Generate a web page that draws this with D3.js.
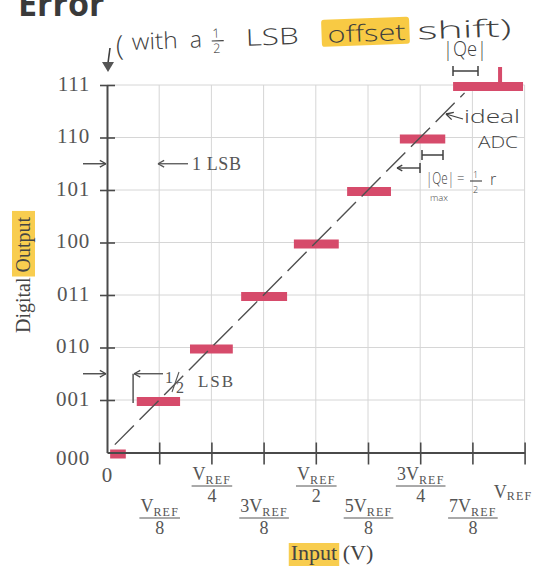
<!DOCTYPE html>
<html>
<head>
<meta charset="utf-8">
<script src="https://cdn.jsdelivr.net/npm/d3@7"></script>
<style>
  html, body { margin: 0; padding: 0; background: #fff; }
  svg { display: block; }
</style>
</head>
<body>
<svg id="chart" width="559" height="570"></svg>
<script>
// Output codes of a 3-bit ADC (y axis)
const codes = ['000', '001', '010', '011', '100', '101', '110', '111'];
// Input range covered by each code's step, in LSB (Vref/8) units
const stepStart = [0.06, 0.57, 1.59, 2.57, 3.58, 4.60, 5.61, 6.63];
const stepEnd   = [0.36, 1.40, 2.41, 3.45, 4.44, 5.44, 6.48, 7.97];
// Marker on the top code's step, in LSB
const topMarker = 7.53;
// Ideal (unquantised) transfer line, start and end in LSB
const idealSpan = [0.15, 6.85];
// Decision thresholds pointed at on the output axis (codes)
const thresholds = [5.5, 1.5];
// Input tick labels: coefficient of VREF and denominator
const tickCoef = ['', '', '3', '', '5', '3', '7', ''];
const tickDen  = ['8', '4', '8', '2', '8', '4', '8', ''];

const svg = d3.select('#chart');
const serif = '"Liberation Serif", "Times New Roman", serif';
const hand = '"Open Sans", "Noto Sans", sans-serif';
const ink = '#4a4a4a';
const textGray = '#555';

const x = d3.scaleLinear().domain([0, 8]).range([107, 524.6]);
const y = d3.scaleLinear().domain([0, 7]).range([452.5, 85]);

// ---- title fragment
svg.append('text').attr('x', 18).attr('y', 16)
  .attr('font-family', '"Open Sans", "Liberation Sans", sans-serif')
  .attr('font-weight', 700).attr('font-size', 34).attr('fill', '#3a3a3a')
  .text('Error');

// ---- grid
const grid = svg.append('g').attr('stroke', '#d6d6d6').attr('stroke-width', 1);
grid.selectAll('line.h').data(d3.range(1, 8)).join('line').attr('class', 'h')
  .attr('x1', x(0)).attr('x2', x(8)).attr('y1', d => y(d)).attr('y2', d => y(d));
grid.selectAll('line.v').data(d3.range(1, 9)).join('line').attr('class', 'v')
  .attr('x1', d => x(d)).attr('x2', d => x(d)).attr('y1', y(0)).attr('y2', y(7));

// ---- quantisation steps
const bars = svg.append('g').attr('fill', '#d64b6b');
bars.selectAll('rect').data(codes).join('rect')
  .attr('x', (d, i) => x(stepStart[i]))
  .attr('width', (d, i) => x(stepEnd[i]) - x(stepStart[i]))
  .attr('y', (d, i) => y(i) + 1.5 - 4.5)
  .attr('height', 9);
bars.append('rect')
  .attr('x', x(topMarker) - 2).attr('width', 4)
  .attr('y', y(7) - 18).attr('height', 18);

// ---- ideal transfer line
svg.append('path')
  .datum(idealSpan.map(v => [v, v]))
  .attr('d', d3.line().x(d => x(d[0])).y(d => y(d[1])))
  .attr('fill', 'none').attr('stroke', '#505050').attr('stroke-width', 1.4)
  .attr('stroke-dasharray', '27 8');

// ---- y axis
const yAxis = svg.append('g').attr('transform', `translate(${x(0)},0)`)
  .call(d3.axisLeft(y).tickValues(d3.range(0, 8)).tickFormat(i => codes[i])
    .tickSize(0).tickPadding(17));
yAxis.select('.domain').attr('stroke', ink).attr('stroke-width', 2);
yAxis.selectAll('.tick text')
  .attr('font-family', serif).attr('font-size', 21).attr('fill', textGray)
  .attr('letter-spacing', 0.8)
  .attr('dy', (d) => d === 0 ? '0.55em' : '0.25em');
yAxis.selectAll('.tick').filter(d => d > 0).append('line')
  .attr('x1', -7).attr('x2', 8).attr('stroke', ink).attr('stroke-width', 1.6);

// ---- x axis
const xAxis = svg.append('g').attr('transform', `translate(0,${y(0)})`)
  .call(d3.axisBottom(x).tickValues(d3.range(1, 9)).tickFormat('').tickSize(0));
xAxis.select('.domain').attr('stroke', ink).attr('stroke-width', 2);
xAxis.selectAll('.tick').append('line')
  .attr('y1', -10).attr('y2', 12).attr('stroke', ink).attr('stroke-width', 1.6);

// Fraction labels under the ticks
xAxis.selectAll('.tick').each(function (k) {
  const g = d3.select(this);
  const i = k - 1;
  if (!tickDen[i]) {
    const t = g.append('text').attr('x', -12).attr('y', 498 - y(0))
      .attr('font-family', serif).attr('fill', textGray);
    t.append('tspan').attr('font-size', 18).text('V');
    t.append('tspan').attr('font-size', 12).attr('letter-spacing', 1.2)
      .attr('dy', 2).text('REF');
    return;
  }
  const lineY = (k % 2 === 0 ? 486 : 518) - y(0);
  const num = g.append('text').attr('text-anchor', 'middle')
    .attr('y', lineY - 6).attr('font-family', serif).attr('fill', textGray);
  num.append('tspan').attr('font-size', 18).text(tickCoef[i] + 'V');
  num.append('tspan').attr('font-size', 12).attr('letter-spacing', 1.2)
    .attr('dy', 3.5).text('REF');
  const w = num.node().getComputedTextLength() + 2;
  g.append('line').attr('x1', -w / 2).attr('x2', w / 2)
    .attr('y1', lineY).attr('y2', lineY).attr('stroke', textGray).attr('stroke-width', 1);
  g.append('text').attr('text-anchor', 'middle').attr('y', lineY + 16)
    .attr('font-family', serif).attr('font-size', 18).attr('fill', textGray)
    .text(tickDen[i]);
});
svg.append('text').attr('x', x(0)).attr('y', 482).attr('text-anchor', 'middle')
  .attr('font-family', serif).attr('font-size', 21).attr('fill', textGray).text('0');

// ---- axis titles with marker highlight
const highlight = '#f7c430';
const yTitle = svg.append('g').attr('transform', 'translate(30,275) rotate(-90)');
const yTitleBg = yTitle.append('rect');
const yTitleText = yTitle.append('text').attr('text-anchor', 'middle')
  .attr('font-family', serif).attr('font-size', 20).attr('fill', '#444')
  .text('Digital Output');
{
  const n = yTitleText.node();
  const s = n.getStartPositionOfChar(8).x;
  const e = n.getEndPositionOfChar(13).x;
  yTitleBg.attr('x', s - 4).attr('width', e - s + 10).attr('y', -18).attr('height', 23)
    .attr('fill', highlight).attr('opacity', 0.85);
}
const xTitle = svg.append('g').attr('transform', 'translate(332,560)');
const xTitleBg = xTitle.append('rect');
const xTitleText = xTitle.append('text').attr('text-anchor', 'middle')
  .attr('font-family', serif).attr('font-size', 22).attr('fill', '#444')
  .text('Input (V)');
{
  const n = xTitleText.node();
  const s = n.getStartPositionOfChar(0).x;
  const e = n.getEndPositionOfChar(4).x;
  xTitleBg.attr('x', s - 2).attr('width', e - s + 4).attr('y', -17).attr('height', 23)
    .attr('fill', highlight).attr('opacity', 0.85);
}

// ---- helpers for drawn arrows
function arrow(g, x1, y1, x2, y2, opts = {}) {
  const color = opts.color || '#444';
  const sw = opts.width || 1.3;
  const head = opts.head || 7;
  g.append('line').attr('x1', x1).attr('y1', y1).attr('x2', x2).attr('y2', y2)
    .attr('stroke', color).attr('stroke-width', sw);
  const a = Math.atan2(y2 - y1, x2 - x1);
  [0.5, -0.5].forEach(da => {
    g.append('line').attr('x1', x2).attr('y1', y2)
      .attr('x2', x2 - head * Math.cos(a + da)).attr('y2', y2 - head * Math.sin(a + da))
      .attr('stroke', color).attr('stroke-width', sw);
  });
}
const notes = svg.append('g');

// Threshold pointers on the output axis
thresholds.forEach(t => arrow(notes, 83, y(t), x(0) - 1, y(t), { color: ink, width: 1.4 }));

// "← 1 LSB"
arrow(notes, 188, y(5.5), 158, y(5.5), { color: textGray, width: 1.3 });
notes.append('text').attr('x', 192).attr('y', 170).attr('font-family', serif)
  .attr('font-size', 18).attr('fill', textGray).attr('textLength', 49).text('1 LSB');

// "½ LSB" bracket
notes.append('line').attr('x1', x(0.5)).attr('x2', x(0.5))
  .attr('y1', y(1.5)).attr('y2', y(1) + 3).attr('stroke', ink).attr('stroke-width', 1.4);
arrow(notes, 163, y(1.5), x(0.5) + 1, y(1.5), { color: ink, width: 1.3 });
notes.append('text').attr('x', 165).attr('y', 383).attr('font-family', serif)
  .attr('font-size', 16).attr('fill', textGray).text('1');
notes.append('line').attr('x1', 179).attr('y1', 372).attr('x2', 172).attr('y2', 392)
  .attr('stroke', textGray).attr('stroke-width', 1.1);
notes.append('text').attr('x', 176).attr('y', 393).attr('font-family', serif)
  .attr('font-size', 16).attr('fill', textGray).text('2');
notes.append('text').attr('x', 198).attr('y', 387).attr('font-family', serif)
  .attr('font-size', 17).attr('fill', textGray).attr('textLength', 35).text('LSB');

// ---- handwritten notes
const pen = '#3f3f3f';
const hw = svg.append('g').attr('transform', 'rotate(-2.1,130,50)');
hw.append('rect').attr('x', 322).attr('y', 27).attr('width', 88).attr('height', 27)
  .attr('rx', 3).attr('fill', highlight).attr('opacity', 0.9);
function scribble(g, txt, px, py, size, len) {
  const t = g.append('text').attr('x', px).attr('y', py)
    .attr('font-family', hand).attr('font-weight', 300)
    .attr('font-size', size).attr('fill', pen).text(txt);
  if (len) t.attr('textLength', len).attr('lengthAdjust', 'spacingAndGlyphs');
  return t;
}
scribble(hw, '(', 116, 55, 28);
scribble(hw, 'with', 132, 50, 23, 46);
scribble(hw, 'a', 190, 50, 23);
scribble(hw, '1', 213, 41, 13);
hw.append('line').attr('x1', 212).attr('x2', 224).attr('y1', 44).attr('y2', 44)
  .attr('stroke', pen).attr('stroke-width', 1.2);
scribble(hw, '2', 213, 56, 13);
scribble(hw, 'LSB', 246, 50, 23, 53);
scribble(hw, 'offset', 328, 50, 23, 78);
scribble(hw, 'shift)', 418, 50, 24, 94);

// Down-pointing pen arrow next to the output axis
notes.append('line').attr('x1', 110).attr('y1', 48).attr('x2', 108).attr('y2', 63)
  .attr('stroke', pen).attr('stroke-width', 1.6);
notes.append('path').attr('d', 'M102,62 L114,62 L108,72 Z').attr('fill', '#555');

// |Qe| over the top step, with its span
scribble(notes, '|Qe|', 443, 56, 20, 44);
function span(g, x1, x2, yy) {
  g.append('line').attr('x1', x1).attr('x2', x2).attr('y1', yy).attr('y2', yy)
    .attr('stroke', pen).attr('stroke-width', 1.5);
  [x1, x2].forEach(v => g.append('line').attr('x1', v).attr('x2', v)
    .attr('y1', yy - 5).attr('y2', yy + 5).attr('stroke', pen).attr('stroke-width', 1.5));
}
span(notes, 453, 478, 71);

// "← ideal ADC"
arrow(notes, 463, 119, 446, 114, { color: pen, width: 1.3, head: 8 });
scribble(notes, 'ideal', 464, 123, 18, 56);
scribble(notes, 'ADC', 478, 148, 16, 40);

// Quantisation error spans and bound
span(notes, 422, 443, 155);
notes.append('line').attr('x1', 420).attr('x2', 420).attr('y1', 163).attr('y2', 173)
  .attr('stroke', pen).attr('stroke-width', 1.5);
arrow(notes, 420, 168, 397, 168, { color: pen, width: 1.4, head: 6 });
scribble(notes, '|Qe|', 426, 184, 16, 28);
scribble(notes, '=', 457, 183, 13);
scribble(notes, '1', 473, 178, 9);
notes.append('line').attr('x1', 470).attr('x2', 482).attr('y1', 181).attr('y2', 181)
  .attr('stroke', pen).attr('stroke-width', 1.1);
scribble(notes, '2', 473, 193, 9);
scribble(notes, 'r', 490, 185, 16);
scribble(notes, 'max', 430, 201, 9, 18);
</script>
</body>
</html>
